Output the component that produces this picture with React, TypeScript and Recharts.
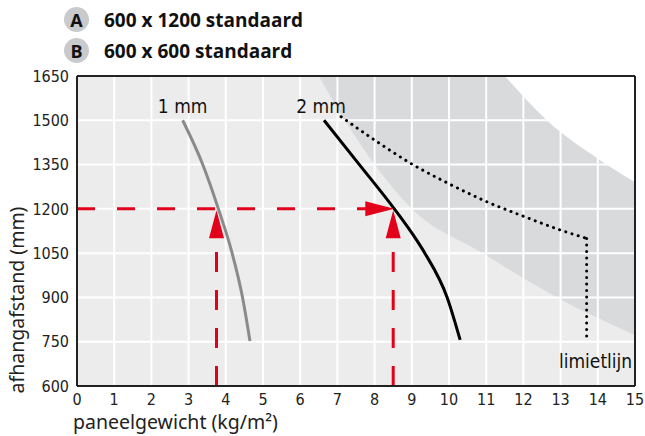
import React from 'react';
import {
  ComposedChart,
  Line,
  Area,
  XAxis,
  YAxis,
  CartesianGrid,
  Scatter,
  ReferenceLine,
  ReferenceDot,
} from 'recharts';

// axis ticks
const xTicks = [0, 1, 2, 3, 4, 5, 6, 7, 8, 9, 10, 11, 12, 13, 14, 15];
const yTicks = [600, 750, 900, 1050, 1200, 1350, 1500, 1650];

// panel curves (x = kg/m2, y = mm)
const curve1mm = [
  { x: 2.84, y: 1500 },
  { x: 3.38, y: 1350 },
  { x: 3.8, y: 1200 },
  { x: 4.17, y: 1050 },
  { x: 4.45, y: 900 },
  { x: 4.65, y: 752 },
];
const curve2mm = [
  { x: 6.64, y: 1500 },
  { x: 7.59, y: 1350 },
  { x: 8.53, y: 1200 },
  { x: 9.13, y: 1094 },
  { x: 9.35, y: 1050 },
  { x: 9.95, y: 900 },
  { x: 10.3, y: 756 },
];

// limietlijn
const limitCurve = [
  { x: 7.1, y: 1512 },
  { x: 8.0, y: 1433 },
  { x: 9.0, y: 1352 },
  { x: 10.0, y: 1285 },
  { x: 11.0, y: 1225 },
  { x: 12.0, y: 1175 },
  { x: 13.0, y: 1128 },
  { x: 13.7, y: 1100 },
];
const limitDrop = [
  { x: 13.7, y: 1100 },
  { x: 13.7, y: 755 },
];

// shaded zone boundaries
const bandLow = [
  { x: 6.5, y: 1650 },
  { x: 7.2, y: 1500 },
  { x: 8.0, y: 1350 },
  { x: 9.0, y: 1200 },
  { x: 10.9, y: 1050 },
  { x: 12.9, y: 900 },
  { x: 15, y: 773 },
];
const bandHigh = [
  { x: 11.5, y: 1650 },
  { x: 12.63, y: 1500 },
  { x: 14.06, y: 1365 },
  { x: 15, y: 1290 },
];

// reading example
const readHoriz = [
  { x: 0, y: 1200 },
  { x: 8.5, y: 1200 },
];
const readVert1 = [
  { x: 3.75, y: 600 },
  { x: 3.75, y: 1150 },
];
const readVert2 = [
  { x: 8.5, y: 600 },
  { x: 8.5, y: 1150 },
];
const arrowsUp = [
  { x: 3.75, y: 1195 },
  { x: 8.5, y: 1195 },
];
const arrowsRight = [{ x: 8.53, y: 1200 }];

const legendItems = [
  { key: 'A', text: '600 x 1200 standaard' },
  { key: 'B', text: '600 x 600 standaard' },
];

const RED = '#e2001a';
const narrow = "'Liberation Sans Narrow', 'DejaVu Sans Condensed', 'Liberation Sans', sans-serif";
const bandData = bandLow.map((p) => ({ x: p.x, range: [p.y, 1650] }));
const whiteData = bandHigh.map((p) => ({ x: p.x, range: [p.y, 1650] }));

const UpArrow = (props: any) => {
  const { cx, cy } = props;
  return <polygon points={`${cx},${cy} ${cx - 7.5},${cy + 28} ${cx + 7.5},${cy + 28}`} fill={RED} />;
};
const RightArrow = (props: any) => {
  const { cx, cy } = props;
  return <polygon points={`${cx},${cy} ${cx - 29},${cy - 7.5} ${cx - 29},${cy + 7.5}`} fill={RED} />;
};
const textShape = (label: string) => (props: any) => (
  <text x={props.cx} y={props.cy} textAnchor="middle" fontSize={19} fontFamily={narrow} fill="#111">
    {label}
  </text>
);

export default function App() {
  return (
    <div style={{ position: 'absolute', left: 0, top: 0, width: 645, height: 436, background: '#fff' }}>
      {legendItems.map((it, i) => (
        <div key={it.key} style={{ position: 'absolute', left: 64, top: 7 + i * 31, height: 25, display: 'flex', alignItems: 'center' }}>
          <div
            style={{
              width: 25,
              height: 25,
              borderRadius: '50%',
              background: '#c9cacc',
              display: 'flex',
              alignItems: 'center',
              justifyContent: 'center',
              fontFamily: "'Open Sans', sans-serif",
              fontWeight: 700,
              fontSize: 18,
              color: '#111',
            }}
          >
            {it.key}
          </div>
          <span style={{ marginLeft: 15, fontFamily: "'Open Sans', sans-serif", fontWeight: 700, fontSize: 19, color: '#111' }}>
            {it.text}
          </span>
        </div>
      ))}
      <ComposedChart width={645} height={436} margin={{ top: 76, right: 10, bottom: 0, left: 0 }}>
        <CartesianGrid fill="#ebeceb" stroke="none" />
        <XAxis
          dataKey="x"
          type="number"
          domain={[0, 15]}
          ticks={xTicks}
          height={50}
          tickLine={false}
          axisLine={{ stroke: '#222', strokeWidth: 2 }}
          tick={{ fontSize: 16, fill: '#222', fontFamily: narrow }}
          allowDataOverflow
        />
        <YAxis
          dataKey="y"
          type="number"
          domain={[600, 1650]}
          ticks={yTicks}
          width={77}
          tickLine={false}
          axisLine={{ stroke: '#222', strokeWidth: 2 }}
          tick={{ fontSize: 16, fill: '#222', fontFamily: narrow }}
          allowDataOverflow
        />
        <Area data={bandData} dataKey="range" type="monotone" stroke="none" fill="#d9dadc" fillOpacity={1} isAnimationActive={false} />
        <Area data={whiteData} dataKey="range" type="monotone" stroke="none" fill="#ffffff" fillOpacity={1} isAnimationActive={false} />
        {xTicks.slice(1, -1).map((t) => (
          <ReferenceLine key={`gx${t}`} x={t} stroke="#ffffff" strokeWidth={2} />
        ))}
        {yTicks.slice(1, -1).map((t) => (
          <ReferenceLine key={`gy${t}`} y={t} stroke="#ffffff" strokeWidth={2} />
        ))}
        <Line data={curve1mm} dataKey="y" type="monotone" stroke="#8a8a8a" strokeWidth={3} dot={false} isAnimationActive={false} />
        <Line data={curve2mm} dataKey="y" type="monotone" stroke="#000" strokeWidth={3} dot={false} isAnimationActive={false} />
        <Line data={limitCurve} dataKey="y" type="monotone" stroke="#000" strokeWidth={3} strokeLinecap="round" strokeDasharray="0.1 6.4" dot={false} isAnimationActive={false} />
        <Line data={limitDrop} dataKey="y" type="linear" stroke="#000" strokeWidth={3} strokeLinecap="round" strokeDasharray="0.1 6.4" dot={false} isAnimationActive={false} />
        <Line data={readHoriz} dataKey="y" type="linear" stroke={RED} strokeWidth={3} strokeDasharray="18 22" dot={false} isAnimationActive={false} />
        <Line data={readVert1} dataKey="y" type="linear" stroke={RED} strokeWidth={3} strokeDasharray="20 18" dot={false} isAnimationActive={false} />
        <Line data={readVert2} dataKey="y" type="linear" stroke={RED} strokeWidth={3} strokeDasharray="20 18" dot={false} isAnimationActive={false} />
        <Scatter data={arrowsUp} dataKey="y" shape={UpArrow} isAnimationActive={false} />
        <Scatter data={arrowsRight} dataKey="y" shape={RightArrow} isAnimationActive={false} />
        <ReferenceLine y={1650} stroke="#222" strokeWidth={2} />
        <ReferenceLine x={15} stroke="#222" strokeWidth={2} />
        <ReferenceDot x={2.84} y={1525} r={0} shape={textShape('1 mm')} />
        <ReferenceDot x={6.56} y={1525} r={0} shape={textShape('2 mm')} />
        <ReferenceDot x={13.94} y={661} r={0} shape={textShape('limietlijn')} />
      </ComposedChart>
      <div style={{ position: 'absolute', left: 73, top: 411, lineHeight: '22px', fontFamily: "'Noto Sans', sans-serif", fontSize: 19.5, color: '#222', whiteSpace: 'nowrap' }}>
        paneelgewicht (kg/m²)
      </div>
      <div
        style={{
          position: 'absolute',
          left: 17,
          top: 300,
          transform: 'translate(-50%, -50%) rotate(-90deg)',
          lineHeight: '22px',
          fontFamily: "'Noto Sans', sans-serif",
          fontSize: 19.5,
          color: '#222',
          whiteSpace: 'nowrap',
        }}
      >
        afhangafstand (mm)
      </div>
    </div>
  );
}
